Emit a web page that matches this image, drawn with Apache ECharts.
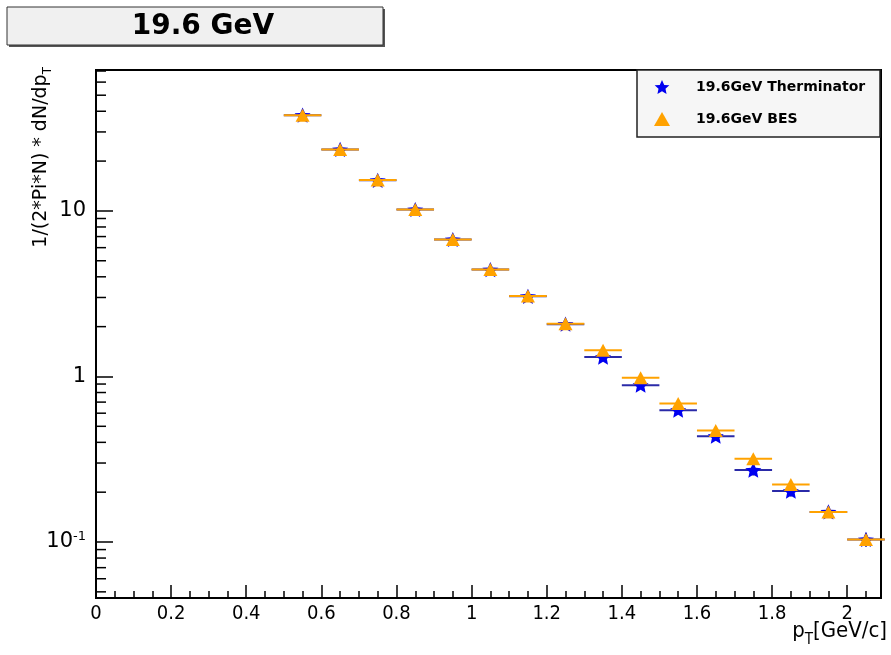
<!DOCTYPE html>
<html>
<head>
<meta charset="utf-8">
<script src="https://cdn.jsdelivr.net/npm/echarts@6/dist/echarts.min.js"></script>
<style>
html,body{margin:0;padding:0;background:#fff;}
#chart{width:891px;height:655px;}
</style>
</head>
<body>
<div id="chart"></div>
<script>
// ---- data ----
const titleText = '19.6 GeV';
const seriesNames = ['19.6GeV Therminator', '19.6GeV BES'];
const ptCenters = [0.55, 0.65, 0.75, 0.85, 0.95, 1.05, 1.15, 1.25, 1.35, 1.45, 1.55, 1.65, 1.75, 1.85, 1.95, 2.05];
const ptHalfWidth = [0.05, 0.05, 0.05, 0.05, 0.05, 0.05, 0.05, 0.05, 0.05, 0.05, 0.05, 0.05, 0.05, 0.05, 0.05, 0.05];
const thermValues = [37.9, 23.5, 15.3, 10.2, 6.72, 4.42, 3.05, 2.07, 1.31, 0.886, 0.626, 0.436, 0.272, 0.203, 0.152, 0.1036];
const thermErrors = [0.9, 0.6, 0.4, 0.28, 0.2, 0.14, 0.1, 0.07, 0.06, 0.045, 0.035, 0.026, 0.02, 0.015, 0.012, 0.01];
const besValues = [37.9, 23.5, 15.35, 10.2, 6.73, 4.43, 3.06, 2.08, 1.44, 0.982, 0.687, 0.472, 0.318, 0.2226, 0.152, 0.1036];
const besErrors = [0.5, 0.3, 0.2, 0.13, 0.09, 0.06, 0.04, 0.03, 0.02, 0.014, 0.01, 0.007, 0.005, 0.004, 0.003, 0.002];
const xTickLabels = ['0', '0.2', '0.4', '0.6', '0.8', '1', '1.2', '1.4', '1.6', '1.8', '2'];
const yTickLabels = {'-1': '{b|10}{sup|-1}', '0': '1', '1': '10'};
const xMin = 0, xMax = 2.09, yMin = 0.0459, yMax = 71;

// minor log ticks (2..9 x 10^k) within the axis range
const yMinorTicks = [];
for (let k = -2; k <= 1; k++) {
  for (let m = 2; m <= 9; m++) {
    const v = m * Math.pow(10, k);
    if (v > yMin && v < yMax) yMinorTicks.push([xMin, v]);
  }
}

const STAR = 'path://M0,-10L2.9,-3.6L9.5,-3.1L4.5,1.3L5.9,8.1L0,4.6L-5.9,8.1L-4.5,1.3L-9.5,-3.1L-2.9,-3.6Z';
const ORANGE = '#ffa200';
const BLUE_LINE = '#2a2aa8';
const BLUE_MARK = '#0000f0';
const FONT = 'DejaVu Sans';
const FONTC = 'DejaVu Sans Condensed, DejaVu Sans';

function errData(vals, errs) {
  return ptCenters.map((x, i) => [x, vals[i], ptHalfWidth[i], errs[i]]);
}
function errRender(color) {
  return function (params, api) {
    const x = api.value(0), y = api.value(1), xe = api.value(2), ye = api.value(3);
    const l = api.coord([x - xe, y]);
    const r = api.coord([x + xe, y]);
    const t = api.coord([x, y + ye]);
    const b = api.coord([x, y - ye]);
    const st = {stroke: color, lineWidth: 2};
    return {
      type: 'group',
      children: [
        {type: 'line', shape: {x1: l[0], y1: l[1], x2: r[0], y2: r[1]}, style: st},
        {type: 'line', shape: {x1: t[0], y1: t[1], x2: b[0], y2: b[1]}, style: st}
      ]
    };
  };
}

const chart = echarts.init(document.getElementById('chart'), null, {renderer: 'canvas'});
const option = {
  backgroundColor: '#ffffff',
  animation: false,
  grid: {left: 96, right: 10, top: 70, bottom: 57, show: true, borderColor: '#000', borderWidth: 2, backgroundColor: '#fff'},
  xAxis: [
    {
      type: 'value', min: xMin, max: xMax, interval: 0.2, position: 'bottom',
      axisLine: {show: true, onZero: false, lineStyle: {color: '#000', width: 2}},
      axisTick: {show: true, inside: true, length: 13, lineStyle: {color: '#000', width: 1.5}},
      axisLabel: {
        show: true, margin: 6, color: '#000', fontSize: 20, fontFamily: FONTC,
        showMaxLabel: false,
        formatter: function (v) { const i = Math.round(v / 0.2); return Math.abs(v - i * 0.2) < 1e-6 ? xTickLabels[i] : ''; }
      },
      splitLine: {show: false}
    },
    {
      type: 'value', min: xMin, max: xMax, interval: 0.05, position: 'bottom',
      axisLine: {show: false},
      axisTick: {show: true, inside: true, length: 7, lineStyle: {color: '#000', width: 1.5}},
      axisLabel: {show: false},
      splitLine: {show: false}
    }
  ],
  yAxis: {
    type: 'log', logBase: 10, min: yMin, max: yMax,
    axisLine: {show: true, onZero: false, lineStyle: {color: '#000', width: 2}},
    axisTick: {show: true, inside: true, length: 17, lineStyle: {color: '#000', width: 1.5}},
    axisLabel: {
      show: true, margin: 10, color: '#000', fontSize: 21, fontFamily: FONT,
      showMinLabel: false, showMaxLabel: false,
      formatter: function (v) {
        const e = Math.log10(v);
        const k = Math.round(e);
        if (Math.abs(e - k) > 1e-6) return '';
        return yTickLabels[String(k)] || '';
      },
      rich: {
        b: {fontSize: 21, fontFamily: FONT, color: '#000'},
        sup: {fontSize: 13, fontFamily: FONT, color: '#000', padding: [0, 0, 10, 0]}
      }
    },
    splitLine: {show: false},
    minorTick: {show: false}
  },
  legend: {
    orient: 'vertical', left: 654, top: 80, itemWidth: 16, itemHeight: 14, itemGap: 18,
    padding: 0,
    data: seriesNames,
    formatter: '{t|{name}}',
    textStyle: {
      color: '#000', fontSize: 14, fontWeight: 'bold', fontFamily: FONT,
      rich: {t: {padding: [0, 0, 0, 21], fontSize: 14, fontWeight: 'bold', fontFamily: FONT, color: '#000'}}
    }
  },
  graphic: [
    {type: 'rect', shape: {x: 9, y: 9, width: 376, height: 38}, style: {fill: '#555'}, z: 10},
    {type: 'rect', shape: {x: 7, y: 7, width: 376, height: 38}, style: {fill: '#f0f0f0', stroke: '#333', lineWidth: 1}, z: 11},
    {type: 'text', x: 203, y: 27, style: {text: titleText, fill: '#000', font: 'bold 28px "DejaVu Sans"', align: 'center', verticalAlign: 'middle'}, z: 12},
    {type: 'rect', shape: {x: 637, y: 70, width: 243, height: 67}, style: {fill: '#f6f6f6', stroke: '#222', lineWidth: 1.5}, z: 1},
    {
      type: 'text', x: 41, y: 67, rotation: Math.PI / 2,
      style: {
        text: '{a|1/(2*Pi*N) * dN/dp}{s|T}', align: 'right', verticalAlign: 'middle',
        rich: {
          a: {fontSize: 19, fontFamily: FONT, fill: '#000'},
          s: {fontSize: 12, fontFamily: FONT, fill: '#000', padding: [14, 0, 0, 0]}
        }
      }
    },
    {
      type: 'text', x: 887, y: 631,
      style: {
        text: '{p|p}{s|T}{g|[GeV/c]}', align: 'right', verticalAlign: 'middle',
        rich: {
          p: {fontSize: 22, fontFamily: FONTC, fill: '#000'},
          s: {fontSize: 15, fontFamily: FONTC, fill: '#000', padding: [19, 0, 0, 0]},
          g: {fontSize: 22, fontFamily: FONTC, fill: '#000'}
        }
      }
    }
  ],
  series: [
    {
      name: 'yMinorTicks', type: 'custom', silent: true, data: yMinorTicks,
      renderItem: function (params, api) {
        const p = api.coord([api.value(0), api.value(1)]);
        return {type: 'line', shape: {x1: p[0], y1: p[1], x2: p[0] + 10, y2: p[1]}, style: {stroke: '#000', lineWidth: 1.5}};
      },
      z: 3
    },
    {
      name: 'thermErr', type: 'custom', silent: true, data: errData(thermValues, thermErrors),
      renderItem: errRender(BLUE_LINE), z: 4
    },
    {
      name: seriesNames[0], type: 'scatter', data: ptCenters.map((x, i) => [x, thermValues[i]]),
      symbol: STAR, symbolSize: 16, symbolKeepAspect: true,
      itemStyle: {color: BLUE_MARK, opacity: 1}, z: 5
    },
    {
      name: 'besErr', type: 'custom', silent: true, data: errData(besValues, besErrors),
      renderItem: errRender(ORANGE), z: 6
    },
    {
      name: seriesNames[1], type: 'scatter', data: ptCenters.map((x, i) => [x, besValues[i]]),
      symbol: 'triangle', symbolSize: [14, 13],
      itemStyle: {color: ORANGE, opacity: 1}, z: 7
    }
  ]
};
chart.setOption(option);
</script>
</body>
</html>
